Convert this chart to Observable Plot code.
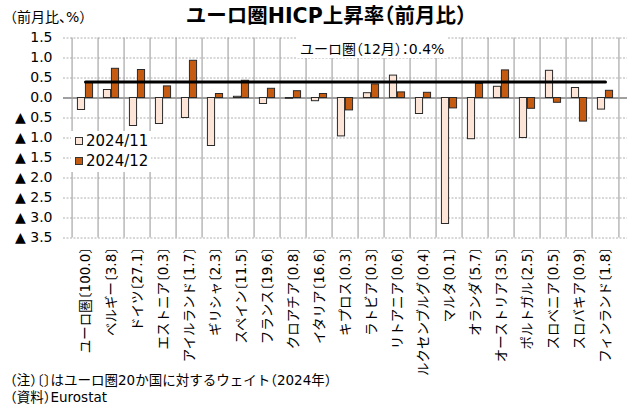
<!DOCTYPE html>
<html><head><meta charset="utf-8">
<script src="https://cdn.jsdelivr.net/npm/d3@7"></script>
<script src="https://cdn.jsdelivr.net/npm/@observablehq/plot@0.6"></script>
<style>
body{margin:0;background:#fff;font-family:"DejaVu Sans","Noto Sans CJK JP",sans-serif;color:#000;font-feature-settings:"halt";}
#wrap{position:relative;width:630px;height:412px;overflow:hidden;}
#chart{position:absolute;left:0;top:0;}
.abs{position:absolute;white-space:nowrap;line-height:1;}
#title{left:0;width:652px;top:6px;text-align:center;font-size:20.5px;font-weight:bold;}
#unit{left:10px;top:10px;font-size:14px;}
#note{left:10px;top:374px;font-size:13.5px;}
#src{left:10px;top:391px;font-size:13.5px;}
#legend{left:71px;top:131px;width:80px;height:41px;background:#fff;}
.li{position:absolute;left:4px;font-size:15px;line-height:1;}
.sw{display:inline-block;width:6px;height:6px;border:1px solid #333;margin-right:3px;vertical-align:1px;}
#anno{left:296px;top:37px;width:151px;height:21px;background:#fff;font-size:14px;}
#anno span{position:absolute;left:4px;top:5px;}
</style></head><body>
<div id="wrap">
<div id="chart"></div>
<div id="title" class="abs">ユーロ圏HICP上昇率（前月比）</div>
<div id="unit" class="abs">（前月比、%）</div>
<div id="legend" class="abs"></div>
<div id="anno" class="abs"><span>ユーロ圏（12月）：0.4%</span></div>
<div id="note" class="abs">（注）〔〕はユーロ圏20か国に対するウェイト（2024年）</div>
<div id="src" class="abs">（資料）Eurostat</div>
</div>
<script>
const categories = ["ユーロ圏〔100.0〕","ベルギー〔3.8〕","ドイツ〔27.1〕","エストニア〔0.3〕","アイルランド〔1.7〕","ギリシャ〔2.3〕","スペイン〔11.5〕","フランス〔19.6〕","クロアチア〔0.8〕","イタリア〔16.6〕","キプロス〔0.3〕","ラトビア〔0.3〕","リトアニア〔0.6〕","ルクセンブルグ〔0.4〕","マルタ〔0.1〕","オランダ〔5.7〕","オーストリア〔3.5〕","ポルトガル〔2.5〕","スロベニア〔0.5〕","スロバキア〔0.9〕","フィンランド〔1.8〕"];
const nov2024 = [-0.3, 0.2, -0.7, -0.65, -0.5, -1.2, 0.03, -0.15, -0.02, -0.08, -0.96, 0.12, 0.56, -0.4, -3.15, -1.03, 0.28, -1.0, 0.68, 0.25, -0.29];
const dec2024 = [0.4, 0.73, 0.7, 0.29, 0.93, 0.1, 0.43, 0.23, 0.17, 0.1, -0.31, 0.34, 0.14, 0.13, -0.26, 0.35, 0.69, -0.27, -0.12, -0.59, 0.18];
const seriesNames = ["2024/11", "2024/12"];
const seriesColors = ["#fce4d6", "#c55a11"];
const euroAreaDec = 0.4;
const yTicks = [1.5, 1.0, 0.5, 0.0, -0.5, -1.0, -1.5, -2.0, -2.5, -3.0, -3.5];
const annotation = {text: "ユーロ圏（12月）：0.4%", from: "キプロス", to: "イタリア", y1: 1.13, y2: 0.455};

const W = 630, H = 412, ML = 63, MR = 3, MT = 37.5, MB = 174.5;
const bw = (W - ML - MR) / categories.length;
const barW = 8;
const FONT = '"DejaVu Sans", "Noto Sans CJK JP", sans-serif';

const rowsNov = categories.map((c, i) => ({c, s: seriesNames[0], v: nov2024[i]}));
const rowsDec = categories.map((c, i) => ({c, s: seriesNames[1], v: dec2024[i]}));

const chart = Plot.plot({
  width: W, height: H,
  marginLeft: ML, marginRight: MR, marginTop: MT, marginBottom: MB,
  style: {fontFamily: FONT, background: "transparent", color: "#000"},
  x: {type: "band", domain: categories, padding: 0, label: null},
  y: {domain: [-3.5, 1.5], label: null},
  color: {domain: seriesNames, range: seriesColors},
  marks: [
    Plot.ruleY(yTicks.filter(d => d !== 0), {stroke: "#b0b0b0", strokeDasharray: "2,1.5", strokeWidth: 1}),
    Plot.ruleX(categories, {dx: -bw / 2, stroke: "#a6a6a6", strokeWidth: 1.2}),
    Plot.ruleX([categories[categories.length - 1]], {dx: bw / 2, stroke: "#a6a6a6", strokeWidth: 1.2}),
    Plot.ruleY([0], {stroke: "#a0a0a0", strokeWidth: 1.8}),
    Plot.barY(rowsNov, {x: "c", y: "v", fill: "s", stroke: "#2a2a2a", strokeWidth: 1, insetLeft: bw / 2 - barW, insetRight: bw / 2}),
    Plot.barY(rowsDec, {x: "c", y: "v", fill: "s", stroke: "#2a2a2a", strokeWidth: 1, insetLeft: bw / 2, insetRight: bw / 2 - barW}),
    Plot.lineY([{c: categories[0], v: euroAreaDec}, {c: categories[categories.length - 1], v: euroAreaDec}], {x: "c", y: "v", stroke: "#000", strokeWidth: 3}),
    Plot.arrow([annotation], {x1: "from", y1: "y1", x2: "to", y2: "y2", dx: -4, insetStart: 15, stroke: "#8a8a8a", strokeWidth: 1, headLength: 7}),
    Plot.axisY(yTicks, {tickSize: 0, tickPadding: 11, fontSize: 14, label: null,
      tickFormat: d => d < 0 ? "▲ " + Math.abs(d).toFixed(1) : d.toFixed(1)}),
    Plot.axisX({tickSize: 0, tickRotate: -90, tickPadding: 9, fontSize: 13.5, label: null})
  ]
});
document.getElementById("chart").appendChild(chart);

const legend = document.getElementById("legend");
seriesNames.forEach((n, i) => {
  const d = document.createElement("div");
  d.className = "li";
  d.style.top = (3 + i * 20) + "px";
  d.innerHTML = `<span class="sw" style="background:${seriesColors[i]}"></span>${n}`;
  legend.appendChild(d);
});
</script>
</body></html>
